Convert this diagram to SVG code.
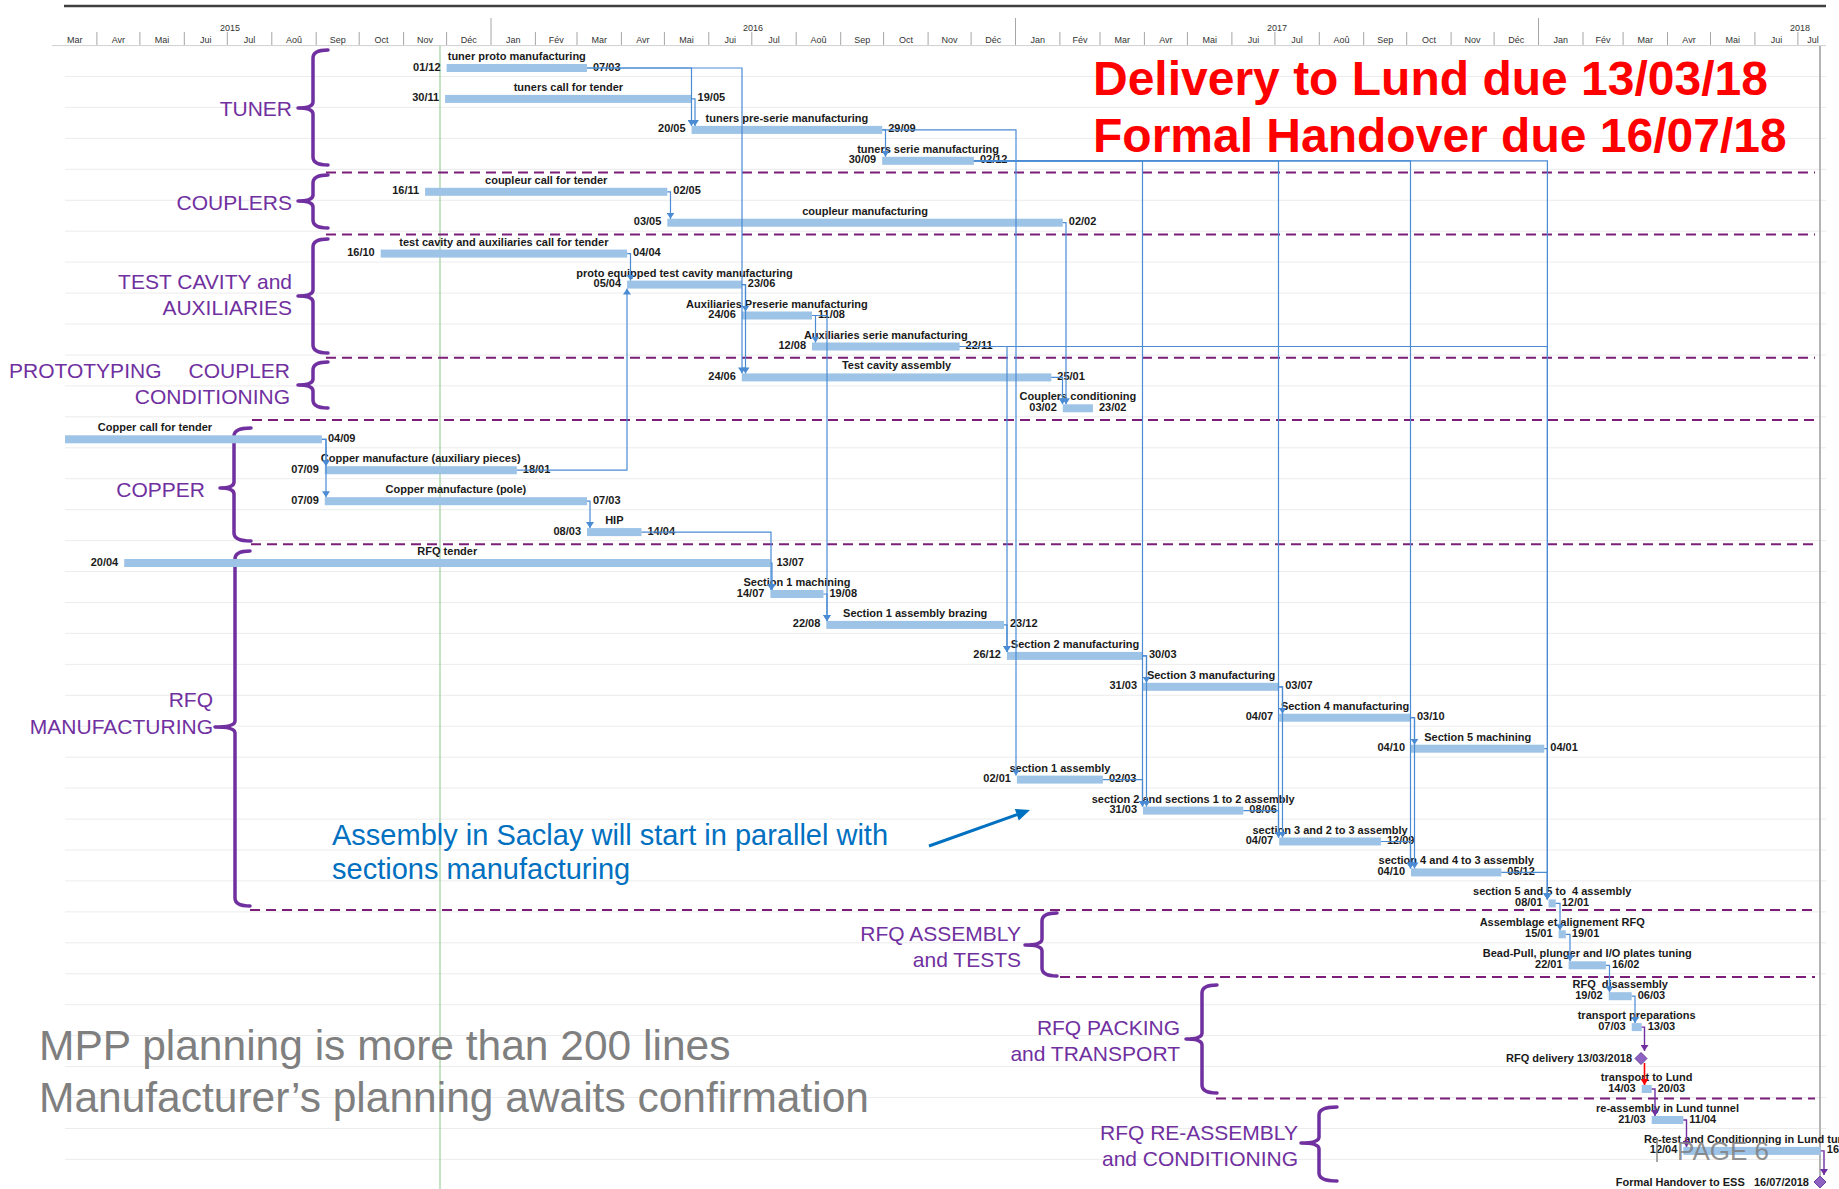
<svg xmlns="http://www.w3.org/2000/svg" width="1839" height="1189" viewBox="0 0 1839 1189">
<style>
text{font-family:'Liberation Sans',Arial,sans-serif}
.t{font-size:11px;font-weight:bold;fill:#1a1a1a}
.nm{text-anchor:middle}
.sd{text-anchor:end}
.bar{fill:#9dc3e6}
.grid{stroke:#ececec;stroke-width:1;fill:none}
.dash{stroke:#7b1e7a;stroke-width:2;stroke-dasharray:10 6;fill:none}
.lnk{fill:none;stroke:#4a8bd4;stroke-width:1.2;marker-end:url(#mb)}
.lp{fill:none;stroke:#7030a0;stroke-width:1.4;marker-end:url(#mp)}
.lr{fill:none;stroke:#ff0000;stroke-width:1.6;marker-end:url(#mr)}
.br{fill:none;stroke:#7030a0;stroke-width:3.5;stroke-linecap:round;stroke-linejoin:round}
.g{font-size:21px;fill:#7030a0;text-anchor:end}
.mo{font-size:9px;fill:#333;text-anchor:middle}
.sep{stroke:#a6a6a6;stroke-width:1;fill:none}
.ms{fill:#8e62c0;stroke:#6b3fa0;stroke-width:1}
</style>
<defs>
<marker id="mb" viewBox="0 0 6 8" refX="6" refY="4" markerWidth="6" markerHeight="8" markerUnits="userSpaceOnUse" orient="auto"><path d="M0,0L6,4L0,8z" fill="#4a8bd4"/></marker>
<marker id="mp" viewBox="0 0 6 8" refX="6" refY="4" markerWidth="6" markerHeight="8" markerUnits="userSpaceOnUse" orient="auto"><path d="M0,0L6,4L0,8z" fill="#7030a0"/></marker>
<marker id="mr" viewBox="0 0 6 8" refX="6" refY="4" markerWidth="6" markerHeight="8" markerUnits="userSpaceOnUse" orient="auto"><path d="M0,0L6,4L0,8z" fill="#ff0000"/></marker>
</defs>
<rect width="1839" height="1189" fill="#ffffff"/>

<g id="timescale">
<line x1="64" y1="6" x2="1826" y2="6" stroke="#404040" stroke-width="2.5"/>
<line x1="52" y1="45.6" x2="1826" y2="45.6" stroke="#d0d0d0" stroke-width="1"/>
<path class="sep" d="M96.9 32V45M139.9 32V45M184.3 32V45M227.3 32V45M271.8 32V45M316.2 32V45M359.2 32V45M403.6 32V45M446.6 32V45M491 18V45M535.4 32V45M577 32V45M621.4 32V45M664.4 32V45M708.8 32V45M751.8 32V45M796.2 32V45M840.7 32V45M883.6 32V45M928.1 32V45M971.1 32V45M1015.5 18V45M1059.9 32V45M1100 32V45M1144.4 32V45M1187.4 32V45M1231.9 32V45M1274.9 32V45M1319.3 32V45M1363.7 32V45M1406.7 32V45M1451.1 32V45M1494.1 32V45M1538.5 18V45M1583 32V45M1623.1 32V45M1667.5 32V45M1710.5 32V45M1754.9 32V45M1797.9 32V45"/>
<text class="mo" x="230" y="31">2015</text>
<text class="mo" x="753" y="31">2016</text>
<text class="mo" x="1277" y="31">2017</text>
<text class="mo" x="1800" y="31">2018</text>
<text class="mo" x="74.7" y="43">Mar</text><text class="mo" x="118.4" y="43">Avr</text><text class="mo" x="162.1" y="43">Mai</text><text class="mo" x="205.8" y="43">Jui</text><text class="mo" x="249.6" y="43">Jul</text><text class="mo" x="294" y="43">Aoû</text><text class="mo" x="337.7" y="43">Sep</text><text class="mo" x="381.4" y="43">Oct</text><text class="mo" x="425.1" y="43">Nov</text><text class="mo" x="468.8" y="43">Déc</text>
<text class="mo" x="513.2" y="43">Jan</text><text class="mo" x="556.2" y="43">Fév</text><text class="mo" x="599.2" y="43">Mar</text><text class="mo" x="642.9" y="43">Avr</text><text class="mo" x="686.6" y="43">Mai</text><text class="mo" x="730.3" y="43">Jui</text><text class="mo" x="774" y="43">Jul</text><text class="mo" x="818.5" y="43">Aoû</text><text class="mo" x="862.2" y="43">Sep</text><text class="mo" x="905.9" y="43">Oct</text><text class="mo" x="949.6" y="43">Nov</text><text class="mo" x="993.3" y="43">Déc</text>
<text class="mo" x="1037.7" y="43">Jan</text><text class="mo" x="1080" y="43">Fév</text><text class="mo" x="1122.2" y="43">Mar</text><text class="mo" x="1165.9" y="43">Avr</text><text class="mo" x="1209.7" y="43">Mai</text><text class="mo" x="1253.4" y="43">Jui</text><text class="mo" x="1297.1" y="43">Jul</text><text class="mo" x="1341.5" y="43">Aoû</text><text class="mo" x="1385.2" y="43">Sep</text><text class="mo" x="1428.9" y="43">Oct</text><text class="mo" x="1472.6" y="43">Nov</text><text class="mo" x="1516.3" y="43">Déc</text>
<text class="mo" x="1560.8" y="43">Jan</text><text class="mo" x="1603.1" y="43">Fév</text><text class="mo" x="1645.3" y="43">Mar</text><text class="mo" x="1689" y="43">Avr</text><text class="mo" x="1732.7" y="43">Mai</text><text class="mo" x="1776.4" y="43">Jui</text><text class="mo" x="1813" y="43">Jul</text>
</g>

<g id="gridlines">
<path class="grid" d="M65 76.5H1826M65 107.4H1826M65 138.4H1826M65 169.3H1826M65 200.3H1826M65 231.2H1826M65 262.1H1826M65 293.1H1826M65 324H1826M65 355H1826M65 385.9H1826M65 416.8H1826M65 447.8H1826M65 478.7H1826M65 509.7H1826M65 540.6H1826M65 571.5H1826M65 602.5H1826M65 633.4H1826M65 664.4H1826M65 695.3H1826M65 726.2H1826M65 757.2H1826M65 788.1H1826M65 819.1H1826M65 850H1826M65 880.9H1826M65 911.9H1826M65 942.8H1826M65 973.8H1826M65 1004.7H1826M65 1035.6H1826M65 1066.6H1826M65 1097.5H1826M65 1128.5H1826M65 1159.4H1826"/>
<line x1="440" y1="46" x2="440" y2="1189" stroke="#8dc48a" stroke-width="1"/>
<line x1="1820" y1="46" x2="1820" y2="1184" stroke="#b4b4b4" stroke-width="2"/>
</g>

<g id="separators">
<path class="dash" d="M326 172.4H1815M326 234.6H1815M326 357.7H1815M252 420H1815M251 544.2H1815M250 910H1815M1060 977H1815M1216 1098.6H1815"/>
</g>

<g id="groups">
<g id="grp-tuner"><path class="br" d="M328,50 Q313,50 313,58 V102 Q313,108 298,108 Q313,108 313,114 V157 Q313,165 328,165"/><text class="g" x="292" y="116">TUNER</text></g>
<g id="grp-couplers"><path class="br" d="M328,175 Q313,175 313,183 V195 Q313,201 298,201 Q313,201 313,207 V220 Q313,228 328,228"/><text class="g" x="292" y="210">COUPLERS</text></g>
<g id="grp-testcavity"><path class="br" d="M328,239 Q313,239 313,247 V290 Q313,296 298,296 Q313,296 313,302 V345 Q313,353 328,353"/><text class="g" x="292" y="289">TEST CAVITY and</text><text class="g" x="292" y="315">AUXILIARIES</text></g>
<g id="grp-proto"><path class="br" d="M328,362 Q313,362 313,370 V379 Q313,385 298,385 Q313,385 313,391 V400 Q313,408 328,408"/><text class="g" style="text-anchor:start" y="378"><tspan x="9">PROTOTYPING</tspan><tspan x="188.5">COUPLER</tspan></text><text class="g" x="290" y="404">CONDITIONING</text></g>
<g id="grp-copper"><path class="br" d="M251,428 Q234,428 234,436 V482 Q234,488 220,488 Q234,488 234,494 V533 Q234,541 251,541"/><text class="g" x="205" y="497">COPPER</text></g>
<g id="grp-rfqmanuf"><path class="br" d="M250,551 Q235,551 235,559 V721 Q235,727 215,727 Q235,727 235,733 V898 Q235,906 250,906"/><text class="g" x="213" y="706.5">RFQ</text><text class="g" x="213" y="733.5">MANUFACTURING</text></g>
<g id="grp-rfqassembly"><path class="br" d="M1057,913 Q1042,913 1042,921 V939 Q1042,945 1025,945 Q1042,945 1042,951 V968 Q1042,976 1057,976"/><text class="g" x="1021" y="941">RFQ ASSEMBLY</text><text class="g" x="1021" y="967">and TESTS</text></g>
<g id="grp-packing"><path class="br" d="M1217,985 Q1202,985 1202,993 V1033 Q1202,1039 1186,1039 Q1202,1039 1202,1045 V1085 Q1202,1093 1217,1093"/><text class="g" x="1180" y="1035">RFQ PACKING</text><text class="g" x="1180" y="1061">and TRANSPORT</text></g>
<g id="grp-reassembly"><path class="br" d="M1337,1107 Q1319,1107 1319,1115 V1137 Q1319,1143 1301,1143 Q1319,1143 1319,1149 V1173 Q1319,1181 1337,1181"/><text class="g" x="1298" y="1139.5">RFQ RE-ASSEMBLY</text><text class="g" x="1298" y="1166">and CONDITIONING</text></g>
</g>

<g id="tasks">
<g id="t0"><rect class="bar" x="446.6" y="64" width="140.4" height="8"/><text class="t nm" x="516.8" y="60">tuner proto manufacturing</text><text class="t sd" x="440.6" y="70.5">01/12</text><text class="t" x="593" y="70.5">07/03</text></g>
<g id="t1"><rect class="bar" x="445.1" y="94.9" width="246.5" height="8"/><text class="t nm" x="568.4" y="90.9">tuners call for tender</text><text class="t sd" x="439.1" y="101.4">30/11</text><text class="t" x="697.6" y="101.4">19/05</text></g>
<g id="t2"><rect class="bar" x="691.6" y="125.9" width="190.6" height="8"/><text class="t nm" x="786.9" y="121.9">tuners pre-serie manufacturing</text><text class="t sd" x="685.6" y="132.4">20/05</text><text class="t" x="888.2" y="132.4">29/09</text></g>
<g id="t3"><rect class="bar" x="882.2" y="156.8" width="91.7" height="8"/><text class="t nm" x="928.1" y="152.8">tuners serie manufacturing</text><text class="t sd" x="876.2" y="163.3">30/09</text><text class="t" x="979.9" y="163.3">02/12</text></g>
<g id="t4"><rect class="bar" x="425.1" y="187.8" width="242.2" height="8"/><text class="t nm" x="546.2" y="183.8">coupleur call for tender</text><text class="t sd" x="419.1" y="194.3">16/11</text><text class="t" x="673.3" y="194.3">02/05</text></g>
<g id="t5"><rect class="bar" x="667.3" y="218.7" width="395.5" height="8"/><text class="t nm" x="865.1" y="214.7">coupleur manufacturing</text><text class="t sd" x="661.3" y="225.2">03/05</text><text class="t" x="1068.8" y="225.2">02/02</text></g>
<g id="t6"><rect class="bar" x="380.7" y="249.6" width="246.4" height="8"/><text class="t nm" x="503.9" y="245.6">test cavity and auxiliaries call for tender</text><text class="t sd" x="374.7" y="256.1">16/10</text><text class="t" x="633.1" y="256.1">04/04</text></g>
<g id="t7"><rect class="bar" x="627.1" y="280.6" width="114.7" height="8"/><text class="t nm" x="684.5" y="276.6">proto equipped test cavity manufacturing</text><text class="t sd" x="621.1" y="287.1">05/04</text><text class="t" x="747.8" y="287.1">23/06</text></g>
<g id="t8"><rect class="bar" x="741.8" y="311.5" width="70.2" height="8"/><text class="t nm" x="776.9" y="307.5">Auxiliaries Preserie manufacturing</text><text class="t sd" x="735.8" y="318">24/06</text><text class="t" x="818" y="318">11/08</text></g>
<g id="t9"><rect class="bar" x="812" y="342.5" width="147.6" height="8"/><text class="t nm" x="885.8" y="338.5">Auxiliaries serie manufacturing</text><text class="t sd" x="806" y="349">12/08</text><text class="t" x="965.6" y="349">22/11</text></g>
<g id="t10"><rect class="bar" x="741.8" y="373.4" width="309.5" height="8"/><text class="t nm" x="896.6" y="369.4">Test cavity assembly</text><text class="t sd" x="735.8" y="379.9">24/06</text><text class="t" x="1057.3" y="379.9">25/01</text></g>
<g id="t11"><rect class="bar" x="1062.8" y="404.3" width="30.1" height="8"/><text class="t nm" x="1077.9" y="400.3">Couplers conditioning</text><text class="t sd" x="1056.8" y="410.8">03/02</text><text class="t" x="1098.9" y="410.8">23/02</text></g>
<g id="t12"><rect class="bar" x="65" y="435.3" width="256.9" height="8"/><text class="t nm" x="155" y="431.3">Copper call for tender</text><text class="t" x="327.9" y="441.8">04/09</text></g>
<g id="t13"><rect class="bar" x="324.8" y="466.2" width="192" height="8"/><text class="t nm" x="420.8" y="462.2">Copper manufacture (auxiliary pieces)</text><text class="t sd" x="318.8" y="472.7">07/09</text><text class="t" x="522.8" y="472.7">18/01</text></g>
<g id="t14"><rect class="bar" x="324.8" y="497.2" width="262.2" height="8"/><text class="t nm" x="455.9" y="493.2">Copper manufacture (pole)</text><text class="t sd" x="318.8" y="503.7">07/09</text><text class="t" x="593" y="503.7">07/03</text></g>
<g id="t15"><rect class="bar" x="587" y="528.1" width="54.5" height="8"/><text class="t nm" x="614.3" y="524.1">HIP</text><text class="t sd" x="581" y="534.6">08/03</text><text class="t" x="647.5" y="534.6">14/04</text></g>
<g id="t16"><rect class="bar" x="124.2" y="559" width="646.2" height="8"/><text class="t nm" x="447.3" y="555">RFQ tender</text><text class="t sd" x="118.2" y="565.5">20/04</text><text class="t" x="776.4" y="565.5">13/07</text></g>
<g id="t17"><rect class="bar" x="770.4" y="590" width="53.1" height="8"/><text class="t nm" x="797" y="586">Section 1 machining</text><text class="t sd" x="764.4" y="596.5">14/07</text><text class="t" x="829.5" y="596.5">19/08</text></g>
<g id="t18"><rect class="bar" x="826.3" y="620.9" width="177.7" height="8"/><text class="t nm" x="915.2" y="616.9">Section 1 assembly brazing</text><text class="t sd" x="820.3" y="627.4">22/08</text><text class="t" x="1010" y="627.4">23/12</text></g>
<g id="t19"><rect class="bar" x="1006.9" y="651.9" width="136.1" height="8"/><text class="t nm" x="1075" y="647.9">Section 2 manufacturing</text><text class="t sd" x="1000.9" y="658.4">26/12</text><text class="t" x="1149" y="658.4">30/03</text></g>
<g id="t20"><rect class="bar" x="1143" y="682.8" width="136.2" height="8"/><text class="t nm" x="1211.1" y="678.8">Section 3 manufacturing</text><text class="t sd" x="1137" y="689.3">31/03</text><text class="t" x="1285.2" y="689.3">03/07</text></g>
<g id="t21"><rect class="bar" x="1279.2" y="713.7" width="131.8" height="8"/><text class="t nm" x="1345.1" y="709.7">Section 4 manufacturing</text><text class="t sd" x="1273.2" y="720.2">04/07</text><text class="t" x="1417" y="720.2">03/10</text></g>
<g id="t22"><rect class="bar" x="1411" y="744.7" width="133.3" height="8"/><text class="t nm" x="1477.7" y="740.7">Section 5 machining</text><text class="t sd" x="1405" y="751.2">04/10</text><text class="t" x="1550.3" y="751.2">04/01</text></g>
<g id="t23"><rect class="bar" x="1016.9" y="775.6" width="86" height="8"/><text class="t nm" x="1059.9" y="771.6">section 1 assembly</text><text class="t sd" x="1010.9" y="782.1">02/01</text><text class="t" x="1108.9" y="782.1">02/03</text></g>
<g id="t24"><rect class="bar" x="1143" y="806.6" width="100.3" height="8"/><text class="t nm" x="1193.2" y="802.6">section 2 and sections 1 to 2 assembly</text><text class="t sd" x="1137" y="813.1">31/03</text><text class="t" x="1249.3" y="813.1">08/06</text></g>
<g id="t25"><rect class="bar" x="1279.2" y="837.5" width="101.7" height="8"/><text class="t nm" x="1330.1" y="833.5">section 3 and 2 to 3 assembly</text><text class="t sd" x="1273.2" y="844">04/07</text><text class="t" x="1386.9" y="844">12/09</text></g>
<g id="t26"><rect class="bar" x="1411" y="868.4" width="90.3" height="8"/><text class="t nm" x="1456.2" y="864.4">section 4 and 4 to 3 assembly</text><text class="t sd" x="1405" y="874.9">04/10</text><text class="t" x="1507.3" y="874.9">05/12</text></g>
<g id="t27"><rect class="bar" x="1548.6" y="899.4" width="7.1" height="8"/><text class="t nm" x="1552.2" y="895.4" xml:space="preserve">section 5 and 5 to  4 assembly</text><text class="t sd" x="1542.6" y="905.9">08/01</text><text class="t" x="1561.7" y="905.9">12/01</text></g>
<g id="t28"><rect class="bar" x="1558.6" y="930.3" width="7.2" height="8"/><text class="t nm" x="1562.2" y="926.3">Assemblage et alignement RFQ</text><text class="t sd" x="1552.6" y="936.8">15/01</text><text class="t" x="1571.8" y="936.8">19/01</text></g>
<g id="t29"><rect class="bar" x="1568.6" y="961.3" width="37.3" height="8"/><text class="t nm" x="1587.3" y="957.3">Bead-Pull, plunger and I/O plates tuning</text><text class="t sd" x="1562.6" y="967.8">22/01</text><text class="t" x="1611.9" y="967.8">16/02</text></g>
<g id="t30"><rect class="bar" x="1608.7" y="992.2" width="23" height="8"/><text class="t nm" x="1620.2" y="988.2" xml:space="preserve">RFQ  disassembly</text><text class="t sd" x="1602.7" y="998.7">19/02</text><text class="t" x="1637.7" y="998.7">06/03</text></g>
<g id="t31"><rect class="bar" x="1631.7" y="1023.1" width="10" height="8"/><text class="t nm" x="1636.7" y="1019.1">transport preparations</text><text class="t sd" x="1625.7" y="1029.6">07/03</text><text class="t" x="1647.7" y="1029.6">13/03</text></g>
<g id="t32"><polygon class="ms" points="1641,1052.5 1647,1058.5 1641,1064.5 1635,1058.5"/><text class="t sd" x="1632" y="1062">RFQ delivery 13/03/2018</text></g>
<g id="t33"><rect class="bar" x="1641.7" y="1085" width="10" height="8"/><text class="t nm" x="1646.7" y="1081">transport to Lund</text><text class="t sd" x="1635.7" y="1091.5">14/03</text><text class="t" x="1657.7" y="1091.5">20/03</text></g>
<g id="t34"><rect class="bar" x="1651.7" y="1116" width="31.6" height="8"/><text class="t nm" x="1667.5" y="1112">re-assembly in Lund tunnel</text><text class="t sd" x="1645.7" y="1122.5">21/03</text><text class="t" x="1689.3" y="1122.5">11/04</text></g>
<g id="t35"><rect class="bar" x="1683.3" y="1146.9" width="137.5" height="8"/><text class="t nm" x="1752.1" y="1142.9">Re-test and Conditionning in Lund tunnel</text><text class="t sd" x="1677.3" y="1153.4">12/04</text><text class="t" x="1826.8" y="1153.4">16/07</text></g>
<g id="t36"><polygon class="ms" points="1820,1176 1826,1182 1820,1188 1814,1182"/><text class="t sd" x="1809" y="1186" xml:space="preserve">Formal Handover to ESS   16/07/2018</text></g>
</g>

<g id="connectors">
<path class="lnk" d="M587,68 H691.5 V125.9"/>
<path class="lnk" d="M587,68 H742 V373.4"/>
<path class="lnk" d="M691.6,98.9 H695 V125.9"/>
<path class="lnk" d="M882.2,129.9 H885.5 V156.8"/>
<path class="lnk" d="M882.2,129.9 H1016 V775.6"/>
<path class="lnk" d="M973.9,160.8 H1142.5 V806.6"/>
<path class="lnk" d="M973.9,160.8 H1278.5 V837.5"/>
<path class="lnk" d="M973.9,160.8 H1410.5 V868.4"/>
<path class="lnk" d="M973.9,160.8 H1547.4 V899.4"/>
<path class="lnk" d="M667.3,191.8 H670.5 V218.7"/>
<path class="lnk" d="M1062.8,222.7 H1066 V404.3"/>
<path class="lnk" d="M627.1,253.6 H630.5 V280.6"/>
<path class="lnk" d="M741.8,284.6 H745.5 V311.5"/>
<path class="lnk" d="M741.8,284.6 H745.5 V373.4"/>
<path class="lnk" d="M812,315.5 H815.5 V342.5"/>
<path class="lnk" d="M812,315.5 H827 V620.9"/>
<path class="lnk" d="M959.6,346.5 H1007 V651.9"/>
<path class="lnk" d="M959.6,346.5 H1547.4 V899.4"/>
<path class="lnk" d="M1051.3,377.4 H1062.5 V404.3"/>
<path class="lnk" d="M321.9,439.3 H326 V466.2"/>
<path class="lnk" d="M321.9,439.3 H326 V497.2"/>
<path class="lnk" d="M516.8,470.2 H627 V288.6"/>
<path class="lnk" d="M587,501.2 H590 V528.1"/>
<path class="lnk" d="M641.5,532.1 H771 V590"/>
<path class="lnk" d="M770.4,563 H772 V590"/>
<path class="lnk" d="M823.5,594 H827 V620.9"/>
<path class="lnk" d="M1004,624.9 H1007 V651.9"/>
<path class="lnk" d="M1143,655.9 H1146.5 V682.8"/>
<path class="lnk" d="M1143,655.9 H1146.5 V806.6"/>
<path class="lnk" d="M1279.2,686.8 H1282.5 V713.7"/>
<path class="lnk" d="M1279.2,686.8 H1282.5 V837.5"/>
<path class="lnk" d="M1411,717.7 H1414.5 V744.7"/>
<path class="lnk" d="M1411,717.7 H1414.5 V868.4"/>
<path class="lnk" d="M1544.3,748.7 H1547.4 V899.4"/>
<path class="lnk" d="M1102.9,779.6 H1142.5 V806.6"/>
<path class="lnk" d="M1243.3,810.6 H1278.5 V837.5"/>
<path class="lnk" d="M1380.9,841.5 H1410.5 V868.4"/>
<path class="lnk" d="M1501.3,872.4 H1547.4 V899.4"/>
<path class="lnk" d="M1555.7,903.4 H1560 V930.3"/>
<path class="lnk" d="M1565.8,934.3 H1570 V961.3"/>
<path class="lnk" d="M1605.9,965.3 H1609.5 V992.2"/>
<path class="lnk" d="M1631.7,996.2 H1635 V1023.1"/>
<path class="lp" d="M1641.7,1027.1 H1644.5 V1051"/>
<path class="lr" d="M1644.5,1063 V1085"/>
<path class="lp" d="M1651.7,1089 H1655 V1116"/>
<path class="lp" d="M1683.3,1120 H1686.5 V1146.9"/>
<path class="lp" d="M1820.8,1150.9 H1824 V1175"/>
</g>

<g id="annotations">
<text x="1093" y="94.6" font-size="48" font-weight="bold" fill="#ff0000">Delivery to Lund due 13/03/18</text>
<text x="1093" y="152" font-size="48" font-weight="bold" fill="#ff0000">Formal Handover due 16/07/18</text>
<text x="332" y="845" font-size="29" fill="#0070c0">Assembly in Saclay will start in parallel with</text>
<text x="332" y="879" font-size="29" fill="#0070c0">sections manufacturing</text>
<line x1="929" y1="846" x2="1017" y2="814.7" stroke="#0070c0" stroke-width="3"/>
<polygon points="1030,810 1018.8,820.4 1014.8,809" fill="#0070c0"/>
<text x="39" y="1060" font-size="42.5" fill="#7f7f7f">MPP planning is more than 200 lines</text>
<text x="39" y="1112" font-size="42.5" fill="#7f7f7f">Manufacturer’s planning awaits confirmation</text>
<line x1="1657" y1="1138" x2="1657" y2="1162" stroke="#8a8a8a" stroke-width="1.5"/>
<text x="1677" y="1160" font-size="26" fill="#7f7f7f" fill-opacity="0.85">PAGE 6</text>
</g>
</svg>
